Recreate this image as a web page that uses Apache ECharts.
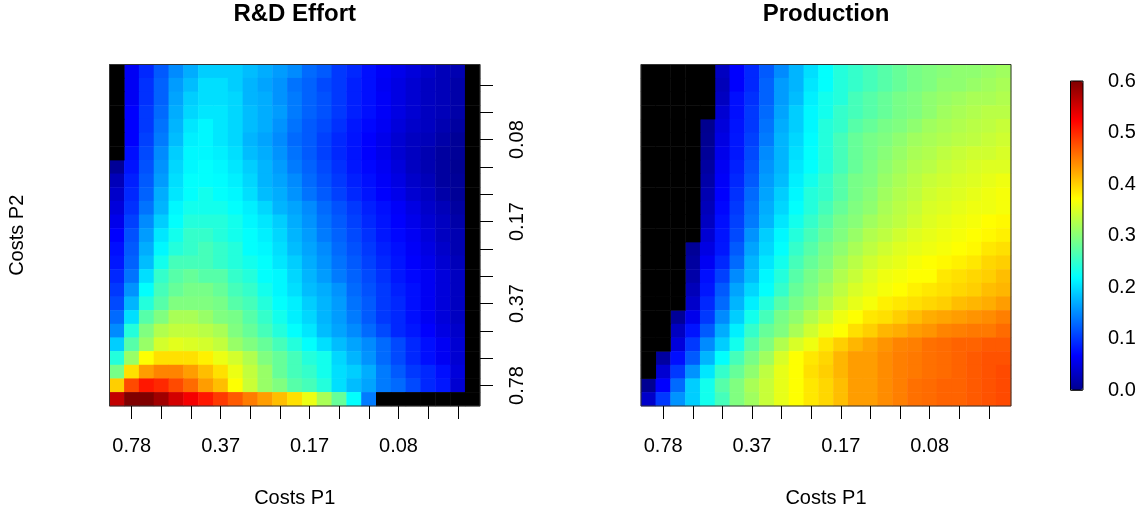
<!DOCTYPE html>
<html>
<head>
<meta charset="utf-8">
<title>R&amp;D Effort / Production</title>
<script src="https://cdn.jsdelivr.net/npm/echarts@6/dist/echarts.min.js"></script>
<style>
  html, body { margin: 0; padding: 0; background: #fff; }
  #chart { width: 1146px; height: 514px; }
</style>
</head>
<body>
<div id="chart"></div>
<script>
// null = cell drawn black (no value)
const N = null

// tick labels on the cost axes (category index -> label)
const costLabelIdx = [1, 7, 13, 19]
const costLabels = ['0.78', '0.37', '0.17', '0.08']

// rows listed top to bottom, 25 columns left to right
const rdEffort = [
  [N, .06, .09, .12, .15, .17, .19, .19, .19, .18, .17, .16, .15, .13, .12, .10, .09, .075, .063, .055, .045, .035, .025, .02, N],
  [N, .06, .095, .125, .16, .18, .20, .20, .19, .175, .165, .155, .135, .125, .11, .10, .085, .075, .06, .05, .04, .03, .025, .015, N],
  [N, .06, .095, .125, .165, .19, .20, .20, .195, .175, .17, .155, .14, .125, .115, .10, .085, .075, .063, .05, .04, .03, .025, .015, N],
  [N, .066, .10, .13, .17, .195, .205, .205, .195, .18, .17, .16, .14, .125, .115, .10, .085, .075, .063, .05, .04, .03, .025, .015, N],
  [N, .066, .10, .135, .175, .205, .215, .205, .195, .18, .17, .155, .135, .12, .11, .095, .08, .07, .06, .045, .035, .03, .02, .01, N],
  [N, .066, .105, .14, .18, .21, .215, .205, .195, .175, .165, .15, .13, .12, .105, .09, .078, .066, .055, .04, .03, .025, .015, .005, N],
  [N, .075, .11, .15, .19, .215, .215, .21, .20, .18, .17, .155, .135, .12, .105, .09, .078, .066, .055, .04, .03, .02, .01, .005, N],
  [.005, .078, .115, .155, .195, .215, .22, .215, .205, .19, .175, .16, .14, .125, .11, .095, .08, .07, .06, .045, .03, .02, .01, .002, N],
  [.025, .085, .12, .16, .20, .22, .22, .218, .21, .195, .175, .165, .15, .13, .115, .10, .085, .075, .063, .05, .035, .025, .01, .005, N],
  [.035, .09, .125, .17, .205, .22, .23, .22, .215, .20, .18, .17, .155, .135, .12, .105, .09, .078, .066, .055, .04, .03, .015, .005, N],
  [.045, .095, .135, .175, .215, .23, .23, .23, .22, .21, .195, .175, .165, .15, .13, .115, .10, .085, .075, .063, .05, .035, .025, .01, N],
  [.055, .105, .15, .19, .22, .24, .24, .24, .23, .215, .205, .19, .17, .155, .135, .12, .105, .09, .078, .066, .055, .04, .03, .015, N],
  [.066, .115, .16, .205, .23, .25, .25, .24, .23, .22, .21, .195, .175, .16, .14, .125, .11, .095, .08, .07, .06, .045, .03, .02, N],
  [.075, .12, .17, .215, .24, .25, .26, .25, .24, .22, .215, .20, .18, .165, .15, .13, .115, .10, .085, .075, .063, .05, .035, .02, N],
  [.08, .125, .18, .23, .26, .26, .26, .25, .24, .23, .22, .205, .19, .17, .155, .135, .12, .105, .09, .078, .066, .055, .04, .025, N],
  [.09, .135, .20, .25, .27, .28, .27, .27, .25, .24, .22, .215, .195, .175, .16, .14, .125, .11, .095, .08, .07, .06, .045, .03, N],
  [.10, .155, .22, .26, .28, .29, .29, .28, .26, .25, .23, .215, .20, .18, .17, .155, .13, .115, .10, .085, .075, .06, .045, .03, N],
  [.11, .175, .24, .27, .295, .295, .295, .29, .27, .26, .24, .22, .21, .19, .175, .16, .135, .12, .10, .09, .075, .06, .045, .03, N],
  [.13, .20, .27, .295, .32, .32, .31, .295, .29, .27, .25, .23, .21, .195, .175, .16, .14, .12, .10, .09, .075, .06, .045, .03, N],
  [.15, .24, .295, .325, .335, .335, .33, .32, .295, .28, .26, .24, .22, .205, .18, .165, .15, .13, .11, .09, .08, .066, .05, .035, N],
  [.19, .27, .31, .345, .355, .35, .345, .335, .31, .295, .28, .26, .24, .22, .20, .18, .165, .15, .13, .11, .09, .075, .06, .04, N],
  [.24, .31, .37, .39, .39, .39, .38, .36, .345, .325, .295, .28, .26, .24, .23, .195, .175, .155, .13, .11, .09, .075, .06, .04, N],
  [.29, .39, .43, .445, .445, .43, .41, .39, .36, .335, .31, .28, .26, .25, .23, .20, .19, .17, .14, .12, .10, .09, .075, .045, N],
  [.40, .48, .51, .50, .48, .46, .43, .41, .37, .34, .31, .295, .27, .26, .24, .20, .18, .165, .14, .13, .11, .09, .08, .04, N],
  [.56, .60, .60, .58, .55, .53, .51, .49, .47, .45, .43, .41, .39, .36, .32, .28, .22, .14, N, N, N, N, N, N, N]
]

const production = [
  [N, N, N, N, N, .03, .066, .09, .12, .15, .175, .20, .22, .24, .25, .26, .27, .28, .29, .295, .30, .305, .305, .31, .315],
  [N, N, N, N, N, .025, .066, .09, .125, .16, .175, .205, .22, .24, .25, .26, .27, .28, .29, .295, .305, .305, .31, .315, .32],
  [N, N, N, N, N, .03, .075, .095, .125, .16, .18, .21, .23, .24, .26, .27, .28, .29, .295, .305, .31, .315, .32, .32, .325],
  [N, N, N, N, N, .04, .075, .10, .13, .165, .19, .215, .23, .25, .26, .27, .28, .29, .295, .305, .315, .32, .325, .33, .33],
  [N, N, N, N, 0, .045, .078, .10, .135, .17, .19, .215, .24, .25, .27, .28, .29, .295, .305, .315, .32, .325, .33, .333, .338],
  [N, N, N, N, .002, .05, .08, .105, .14, .175, .195, .218, .24, .26, .28, .29, .295, .305, .315, .32, .325, .33, .333, .338, .343],
  [N, N, N, N, .005, .055, .08, .11, .15, .175, .20, .22, .24, .26, .28, .29, .30, .31, .32, .325, .333, .338, .343, .343, .348],
  [N, N, N, N, .01, .06, .085, .115, .155, .175, .205, .22, .24, .26, .28, .293, .305, .315, .325, .33, .338, .343, .348, .352, .352],
  [N, N, N, N, .015, .063, .09, .12, .16, .18, .21, .23, .25, .27, .29, .295, .31, .32, .33, .338, .343, .348, .352, .357, .362],
  [N, N, N, N, .02, .066, .095, .13, .165, .19, .215, .24, .25, .27, .29, .30, .315, .325, .333, .343, .348, .352, .357, .362, .366],
  [N, N, N, N, .025, .07, .10, .135, .17, .195, .22, .24, .26, .28, .295, .305, .32, .33, .338, .348, .352, .357, .362, .362, .366],
  [N, N, N, N, .03, .075, .105, .14, .175, .205, .23, .25, .27, .29, .30, .315, .325, .333, .343, .352, .357, .362, .366, .372, .375],
  [N, N, N, N, .04, .078, .11, .155, .19, .215, .24, .26, .28, .295, .31, .325, .333, .343, .352, .357, .362, .366, .371, .375, .38],
  [N, N, N, .005, .05, .08, .12, .165, .195, .22, .25, .27, .29, .305, .32, .333, .343, .352, .357, .362, .366, .371, .375, .385, .39],
  [N, N, N, .01, .06, .09, .13, .175, .205, .23, .26, .28, .295, .315, .33, .343, .352, .357, .366, .371, .375, .38, .385, .395, .40],
  [N, N, N, .015, .075, .105, .15, .18, .215, .24, .27, .29, .305, .325, .338, .352, .362, .366, .371, .371, .385, .39, .395, .40, .41],
  [N, N, N, .025, .08, .12, .165, .195, .22, .25, .28, .295, .315, .333, .348, .357, .366, .372, .38, .385, .39, .395, .40, .41, .415],
  [N, N, N, .035, .09, .13, .175, .21, .24, .27, .29, .305, .325, .343, .357, .366, .38, .385, .39, .395, .40, .41, .415, .42, .43],
  [N, N, .005, .055, .10, .15, .19, .23, .26, .29, .305, .325, .343, .362, .371, .385, .39, .40, .41, .42, .425, .43, .435, .44, .448],
  [N, N, .03, .078, .12, .17, .21, .25, .28, .295, .32, .343, .362, .371, .39, .40, .415, .42, .43, .435, .445, .448, .452, .452, .46],
  [N, N, .045, .10, .15, .19, .23, .27, .295, .325, .348, .362, .385, .40, .415, .425, .435, .445, .448, .457, .46, .465, .465, .47, .47],
  [N, .01, .075, .12, .175, .22, .26, .29, .315, .348, .371, .385, .395, .415, .43, .43, .44, .448, .452, .457, .46, .465, .47, .475, .475],
  [N, .04, .10, .155, .205, .25, .28, .305, .333, .357, .371, .39, .40, .415, .43, .43, .44, .448, .452, .457, .46, .465, .47, .475, .48],
  [.002, .066, .13, .19, .23, .27, .295, .32, .338, .357, .371, .385, .395, .41, .43, .43, .44, .448, .457, .46, .465, .465, .47, .475, .48],
  [.035, .10, .155, .19, .23, .26, .295, .315, .338, .357, .371, .385, .395, .41, .43, .43, .44, .448, .457, .46, .465, .465, .47, .475, .48]
]

const FONT = "'Liberation Sans', Arial, sans-serif"

// 64 step jet palette (as tim.colors)
function timColors() {
  const out = []
  const hex = (v) => Math.round(Math.max(0, Math.min(1, v)) * 255).toString(16).padStart(2, '0')
  for (let i = 0; i < 64; i++) {
    let r = 0, g = 0, b = 0
    if (i <= 7) { b = (i + 9) / 16 }
    else if (i <= 23) { b = 1; g = (i - 7) / 16 }
    else if (i <= 39) { g = 1; r = (i - 23) / 16; b = (39 - i) / 16 }
    else if (i <= 55) { r = 1; g = (55 - i) / 16 }
    else { r = (71 - i) / 16 }
    out.push('#' + hex(r) + hex(g) + hex(b))
  }
  return out
}

// cells with a value
function toCells(rows) {
  const cells = []
  const n = rows.length
  rows.forEach((row, r) => {
    row.forEach((v, c) => {
      if (v !== null) cells.push([c, n - 1 - r, v])
    })
  })
  return cells
}

// cells without a value (drawn black)
function naCells(rows) {
  const cells = []
  const n = rows.length
  rows.forEach((row, r) => {
    row.forEach((v, c) => {
      if (v === null) cells.push([c, n - 1 - r, 0])
    })
  })
  return cells
}

const cats = rdEffort[0].map((_, i) => String(i))
const isTick = (i) => i % 2 === 1
const isLabel = (i) => costLabelIdx.indexOf(i) >= 0
const labelOf = (v) => {
  const k = costLabelIdx.indexOf(Number(v))
  return k >= 0 ? costLabels[k] : ''
}

function costAxis(gridIndex, extra) {
  return Object.assign({
    type: 'category',
    gridIndex: gridIndex,
    data: cats,
    z: 10,
    axisLine: { show: false },
    axisTick: {
      show: true,
      alignWithLabel: true,
      interval: (i) => isTick(i),
      length: 13,
      lineStyle: { color: '#000', width: 1 },
    },
    axisLabel: {
      interval: (i) => isLabel(i),
      formatter: labelOf,
      color: '#000',
      fontSize: 20,
      fontFamily: FONT,
      margin: 30,
    },
    splitLine: { show: false },
  }, extra)
}

const panelTop = 64.5
const panelH = 341.5

const chart = echarts.init(document.getElementById('chart'), null, { renderer: 'canvas' })
chart.setOption({
  backgroundColor: '#fff',
  animation: false,
  title: [
    { text: 'R&D Effort', left: 294.7, top: 2, padding: 0, textAlign: 'center',
      textStyle: { fontSize: 24, fontWeight: 'bold', color: '#000', fontFamily: FONT } },
    { text: 'Production', left: 826, top: 2, padding: 0, textAlign: 'center',
      textStyle: { fontSize: 24, fontWeight: 'bold', color: '#000', fontFamily: FONT } },
  ],
  grid: [
    { left: 109.5, top: panelTop, width: 370.5, height: panelH, show: true, z: 5,
      borderColor: '#333', borderWidth: 1, backgroundColor: 'transparent' },
    { left: 641, top: panelTop, width: 370, height: panelH, show: true, z: 5,
      borderColor: '#333', borderWidth: 1, backgroundColor: 'transparent' },
    { left: 1070.5, top: 81, width: 12.5, height: 309, show: true, z: 5,
      borderColor: '#000', borderWidth: 1, backgroundColor: 'transparent' },
  ],
  xAxis: [
    costAxis(0, { name: 'Costs P1', nameLocation: 'middle', nameGap: 82,
      nameTextStyle: { fontSize: 20, color: '#000', fontFamily: FONT } }),
    costAxis(1, { name: 'Costs P1', nameLocation: 'middle', nameGap: 82,
      nameTextStyle: { fontSize: 20, color: '#000', fontFamily: FONT } }),
    { type: 'value', gridIndex: 2, show: false, min: 0, max: 1 },
  ],
  yAxis: [
    costAxis(0, {
      position: 'right',
      axisLabel: {
        interval: (i) => isLabel(i),
        formatter: labelOf,
        rotate: 90,
        color: '#000',
        fontSize: 20,
        fontFamily: FONT,
        margin: 27,
      },
    }),
    { type: 'value', gridIndex: 0, position: 'left', min: 0, max: 1,
      axisLine: { show: false }, axisTick: { show: false }, axisLabel: { show: false },
      splitLine: { show: false },
      name: 'Costs P2', nameLocation: 'middle', nameGap: 82,
      nameTextStyle: { fontSize: 20, color: '#000', fontFamily: FONT } },
    costAxis(1, { axisTick: { show: false }, axisLabel: { show: false } }),
    { type: 'value', gridIndex: 2, position: 'right', min: 0, max: 0.6, interval: 0.1,
      axisLine: { show: false },
      axisTick: { show: true, length: 12, lineStyle: { color: '#555' } },
      axisLabel: { formatter: (v) => v.toFixed(1), color: '#000', fontSize: 20,
        fontFamily: FONT, margin: 25 },
      splitLine: { show: false } },
  ],
  visualMap: {
    type: 'continuous',
    seriesIndex: [0, 1],
    min: 0,
    max: 0.6,
    calculable: false,
    hoverLink: false,
    orient: 'vertical',
    left: 1070.5,
    top: 81,
    padding: 0,
    itemWidth: 12.5,
    itemHeight: 309,
    inRange: { color: timColors() },
  },
  series: [
    { type: 'heatmap', xAxisIndex: 0, yAxisIndex: 0, data: toCells(rdEffort), silent: true,
      itemStyle: { borderWidth: 0 }, emphasis: { disabled: true } },
    { type: 'heatmap', xAxisIndex: 1, yAxisIndex: 2, data: toCells(production), silent: true,
      itemStyle: { borderWidth: 0 }, emphasis: { disabled: true } },
    { type: 'heatmap', xAxisIndex: 0, yAxisIndex: 0, data: naCells(rdEffort), silent: true,
      itemStyle: { color: '#000', borderWidth: 0 }, emphasis: { disabled: true } },
    { type: 'heatmap', xAxisIndex: 1, yAxisIndex: 2, data: naCells(production), silent: true,
      itemStyle: { color: '#000', borderWidth: 0 }, emphasis: { disabled: true } },
  ],
})
</script>
</body>
</html>
